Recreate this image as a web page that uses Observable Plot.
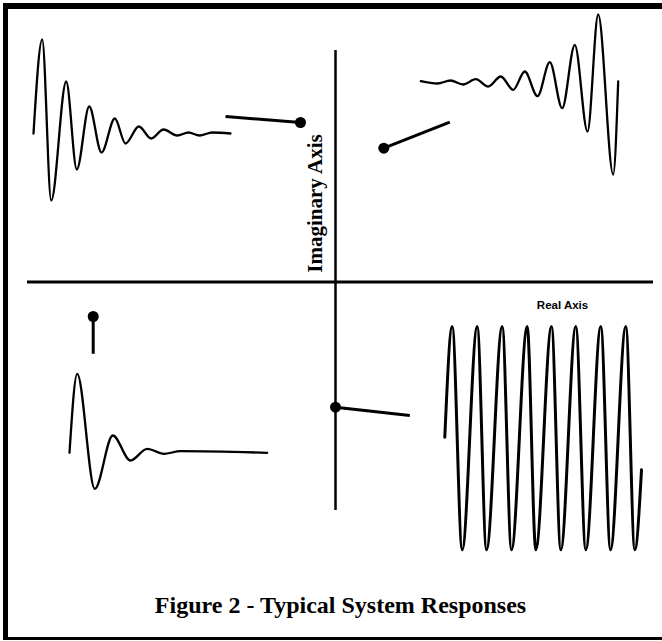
<!DOCTYPE html>
<html><head><meta charset="utf-8">
<script src="https://cdn.jsdelivr.net/npm/d3@7"></script>
<script src="https://cdn.jsdelivr.net/npm/@observablehq/plot@0.6"></script>
<style>
html,body{margin:0;padding:0;background:#fff;}
#wrap{position:relative;width:662px;height:641px;overflow:hidden;background:#fff;}
#border{position:absolute;left:3px;top:3px;width:659px;height:637px;border-left:5px solid #000;border-top:6px solid #000;border-bottom:3px solid #000;box-sizing:border-box;}
#chart{position:absolute;left:0;top:0;}
</style></head><body>
<div id="wrap"><div id="border"></div><div id="chart"></div></div>
<script>
// Complex (s) plane: real axis horizontal, imaginary axis vertical; origin at their crossing.
// Each response waveform is given by its extrema, joined smoothly.

// Upper-left: stable, lightly damped oscillation (pole in left half plane, above axis)
const dampedUpper = [
  [-302, 148.5], [-293.3, 242.5], [-284.3, 81.5], [-269.3, 200.5], [-258.7, 112.5],
  [-246.3, 175.5], [-234, 129.5], [-220.7, 163.5], [-210, 138.5], [-196.7, 155.5],
  [-184.3, 143.5], [-172, 152.5], [-158.3, 146.5], [-147, 149.5], [-136, 146.5],
  [-123.3, 149.5], [-105, 148.5]
];
// Upper-right: unstable, growing oscillation (pole in right half plane)
const growingUpper = [
  [85.3, 200.8], [102, 198.5], [115, 201.5], [127.7, 197.5], [140.3, 202.8],
  [152.7, 195.5], [165.3, 205.5], [177.7, 192.2], [189.3, 210.5], [202, 185.8],
  [214.3, 219.8], [226.7, 173.8], [239.3, 237.2], [252, 150.5], [262.7, 267.5],
  [277.7, 107.5], [282.7, 200.5]
];
// Lower-left: heavily damped response
const dampedLower = [
  [-266, -170.8], [-258.3, -91.8], [-240.7, -206.8], [-222.7, -153.5], [-205, -178.5],
  [-188.3, -166.8], [-171.7, -171.8], [-155, -169.2], [-68.3, -170.8]
];
// Lower-right: sustained oscillation (pole on the imaginary axis)
const sustained = [
  [109.3, -155.2],
  [116.7, -44.5], [126.7, -267.8], [141.7, -44.5], [151, -267.8],
  [166.7, -44.5], [176, -267.8], [191.7, -44.5], [200.3, -267.8],
  [216, -44.5], [225.3, -267.8], [240.3, -44.5], [250.3, -267.8],
  [265.3, -44.5], [275, -267.8], [290.3, -44.5], [299.3, -267.8],
  [306, -187.8]
];
// Pole markers: pole location and the end of its pointer line
const poleRe  = [-35, 48.3, -242.3, 0];
const poleIm  = [159.5, 133.8, -34.5, -125.2];
const tipRe   = [-110, 114.3, -242.3, 74.3];
const tipIm   = [165.5, 159.8, -71.8, -133.5];
// Axis extents
const realAxis = [-308, 318];
const imagAxis = [-228.5, 231.5];

const poles = poleRe.map((re, i) => ({re, im: poleIm[i], tre: tipRe[i], tim: tipIm[i]}));
const wave = (pts) => pts.map(([x, y]) => ({x, y}));

const chart = Plot.plot({
  width: 662,
  height: 641,
  margin: 0,
  x: {domain: [-335, 327], axis: null},
  y: {domain: [-359.5, 281.5], axis: null},
  style: {background: "transparent"},
  marks: [
    Plot.ruleY([0], {x1: realAxis[0], x2: realAxis[1], stroke: "#000", strokeWidth: 3}),
    Plot.ruleX([0], {y1: imagAxis[0], y2: imagAxis[1], stroke: "#000", strokeWidth: 2.5}),
    Plot.line(wave(dampedUpper), {x: "x", y: "y", curve: "monotone-x", stroke: "#000", strokeWidth: 2.3}),
    Plot.line(wave(growingUpper), {x: "x", y: "y", curve: "monotone-x", stroke: "#000", strokeWidth: 2.3}),
    Plot.line(wave(dampedLower), {x: "x", y: "y", curve: "monotone-x", stroke: "#000", strokeWidth: 2.3}),
    Plot.line(wave(sustained), {x: "x", y: "y", curve: "monotone-x", stroke: "#000", strokeWidth: 3}),
    Plot.link(poles, {x1: "re", y1: "im", x2: "tre", y2: "tim", stroke: "#000", strokeWidth: 3}),
    Plot.dot(poles, {x: "re", y: "im", r: 5.5, fill: "#000", stroke: "none"}),
    Plot.text(["Imaginary Axis"], {x: -20.5, y: 78.5, rotate: -90, text: d => d,
      fontFamily: "'Liberation Serif', 'Times New Roman', serif", fontWeight: "bold",
      fontSize: 21, textAnchor: "middle", lineAnchor: "middle", fill: "#000"}),
    Plot.text(["Real Axis"], {x: 227, y: -26.5, text: d => d,
      fontFamily: "'Liberation Sans', Arial, sans-serif", fontWeight: "bold",
      fontSize: 11.5, textAnchor: "middle", lineAnchor: "bottom", fill: "#000"}),
    Plot.text(["Figure 2 - Typical System Responses"], {x: 5, y: -330.5, text: d => d,
      fontFamily: "'Liberation Serif', 'Times New Roman', serif", fontWeight: "bold",
      fontSize: 24, textAnchor: "middle", lineAnchor: "bottom", fill: "#000"})
  ]
});
document.getElementById("chart").appendChild(chart);
</script>
</body></html>
